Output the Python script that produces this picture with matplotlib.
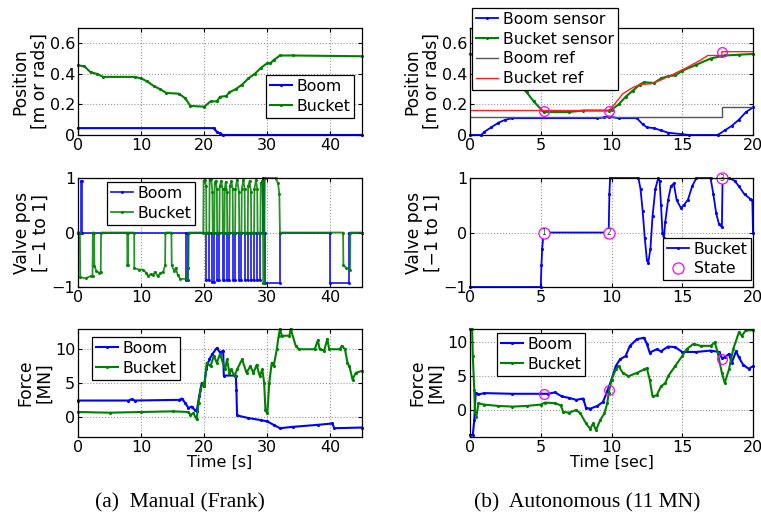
import matplotlib

matplotlib.use("Agg")
import matplotlib.pyplot as plt

plt.rcParams["font.family"] = ["DejaVu Sans"]

BLUE = "#0000ff"
GREEN = "#008000"

# ---- (a) manual: position ----
man_boom_pos_t = [0, 21.5, 22.0, 22.5, 23.0, 45]
man_boom_pos = [0.045, 0.045, 0.02, 0.01, 0.0, 0.0]
man_bucket_pos_t = [0, 1, 2, 3, 4, 9, 10, 11, 12, 13, 14, 16, 17, 17.8, 20, 21, 22, 22.5,
                    23.5, 24, 25, 26, 27, 28, 29, 30, 30.5, 31, 32, 34, 45]
man_bucket_pos = [0.455, 0.45, 0.41, 0.40, 0.38, 0.38, 0.37, 0.35, 0.32, 0.30, 0.275, 0.27,
                  0.24, 0.19, 0.185, 0.22, 0.22, 0.25, 0.255, 0.28, 0.30, 0.33, 0.37, 0.40,
                  0.44, 0.47, 0.47, 0.49, 0.52, 0.52, 0.515]

# ---- (a) manual: valve pos ----
# boom valve: (start, end, level) pulses from a zero baseline
man_boom_valve_pulses = [
    (0.5, 0.65, 0.95), (17.1, 17.5, -0.87), (20.3, 20.8, -0.88), (21.3, 21.6, -0.9),
    (22.0, 22.4, -0.88), (22.9, 23.2, -0.88), (23.6, 24.0, -0.88), (24.5, 24.9, -0.88),
    (25.5, 25.9, -0.88), (26.4, 26.9, -0.88), (27.4, 27.9, -0.88), (28.4, 28.9, -0.88),
    (29.25, 29.45, 1.0), (29.6, 32.0, -0.92), (40.0, 43.0, -0.92),
]
man_bucket_valve_t = [
    0, 0.3, 0.35, 1.2, 2.0, 2.3, 2.35, 2.55, 2.6, 2.9, 3.3, 3.6, 3.65,
    7.8, 7.82, 7.9, 7.92,
    8.9, 8.92, 9.6, 10.3, 10.8, 11.1, 11.5, 11.9, 12.2, 12.6, 13.0, 13.5, 13.8, 13.85,
    14.8, 14.85, 15.2, 15.5, 15.8, 16.2, 17.2, 17.4, 17.5, 17.55,
    19.85, 19.9, 20.1, 20.3, 20.35,
    20.8, 20.85, 21.1, 21.3, 21.35,
    21.6, 21.65, 21.8, 22.0, 22.05,
    22.4, 22.45, 22.7, 22.9, 22.95,
    23.2, 23.25, 23.4, 23.6, 23.65,
    24.0, 24.05, 24.3, 24.5, 24.55,
    24.9, 24.95, 25.2, 25.5, 25.55,
    25.9, 25.95, 26.2, 26.4, 26.45,
    26.9, 26.95, 27.2, 27.4, 27.45,
    27.9, 27.95, 28.2, 28.4, 28.45,
    28.9, 28.95, 29.2, 29.3, 29.35, 29.5, 29.6, 31.3, 31.7, 31.9, 32.0,
    42.0, 42.05, 42.5, 43.1, 43.15, 45,
]
man_bucket_valve = [
    0, 0, -0.82, -0.84, -0.8, -0.8, 0, 0, -0.62, -0.7, -0.74, -0.72, 0,
    0, -0.6, -0.6, 0,
    0, -0.65, -0.68, -0.68, -0.74, -0.8, -0.76, -0.78, -0.72, -0.8, -0.75, -0.72, -0.6, 0,
    0, -0.6, -0.7, -0.65, -0.78, -0.85, -0.85, -0.65, -0.65, 0,
    0, 0.95, 0.97, 0.85, 0,
    0, 0.97, 0.98, 0.75, 0,
    0, 0.9, 0.95, 0.8, 0,
    0, 0.85, 0.95, 0.8, 0,
    0, 0.8, 0.93, 0.75, 0,
    0, 0.85, 0.95, 0.8, 0,
    0, 0.8, 0.97, 0.75, 0,
    0, 0.8, 0.97, 0.8, 0,
    0, 0.85, 0.95, 0.75, 0,
    0, 0.8, 0.97, 0.8, 0,
    0, 0.9, 0.95, 0.5, -0.93, -0.93, 1.0, 1.0, 0.9, 0.7, 0,
    0, -0.6, -0.65, -0.68, 0, 0,
]

# ---- (a) manual: force ----
man_boom_force_t = [0, 8, 8.5, 9, 16, 16.5, 17, 17.5, 18, 18.5, 18.8, 19.2, 19.6, 20, 20.3,
                    20.8, 21.3, 22, 22.5, 23, 23.1, 25, 25.1, 25.2, 27, 29, 30, 31, 32, 34,
                    38, 40.3, 40.6, 45]
man_boom_force = [2.4, 2.4, 2.6, 2.4, 2.5, 2.7, 2.0, 1.3, 1.5, 1.0, 0.8, 3.0, 5.0, 4.5, 7.0,
                  8.5, 9.3, 10.2, 9.5, 9.8, 6.1, 6.1, 4.0, 0.2, -0.2, -0.5, -0.7, -1.2, -1.7,
                  -1.5, -1.2, -1.0, -1.7, -1.6]
man_bucket_force_t = [0, 5, 10, 15, 17.5, 17.8, 18.3, 18.8, 19.1, 19.4, 19.8, 20, 20.4, 21,
                      21.5, 22, 22.5, 23.3, 23.6, 24, 24.3, 24.8, 25.2, 26, 26.7, 27.3, 27.8,
                      28.3, 28.8, 29.2, 29.5, 29.7, 30, 30.3, 30.7, 31, 31.5, 31.8, 32, 32.3,
                      33.5, 33.7, 34.5, 35, 37.5, 38, 38.3, 39, 39.5, 39.8, 41.5, 41.8, 42.3,
                      42.7, 43, 43.5, 44, 45]
man_bucket_force = [0.7, 0.6, 0.7, 0.8, 0.7, 0.3, 0.5, -0.4, 2.0, 4.0, 5.0, 4.5, 8.0, 7.5,
                    9.0, 8.0, 9.3, 7.0, 8.5, 6.5, 7.0, 6.0, 7.0, 8.5, 6.5, 7.5, 6.5, 7.7, 6.0,
                    7.0, 5.0, 1.0, 0.5, 5.0, 8.0, 7.5, 10.0, 12.0, 13.0, 12.0, 12.0, 13.0, 10.5,
                    10.0, 10.0, 11.3, 10.0, 9.8, 11.5, 10.0, 10.0, 10.5, 10.0, 8.0, 7.5, 5.5,
                    6.5, 6.8]

# ---- (b) autonomous: position ----
aut_boom_pos_t = [0, 0.8, 1, 1.5, 2, 2.5, 3, 9, 9.5, 9.8, 10.5, 11.8, 12.2, 12.5, 13, 13.5,
                  14, 15, 15.5, 17.5, 18, 18.5, 19, 19.5, 20]
aut_boom_pos = [0, 0, 0.02, 0.05, 0.08, 0.10, 0.11, 0.11, 0.115, 0.12, 0.11, 0.11, 0.07, 0.05,
                0.045, 0.03, 0.015, 0.005, 0, 0, 0.03, 0.06, 0.10, 0.15, 0.18]
aut_bucket_pos_t = [0, 1, 2, 3, 4, 4.5, 5.2, 7, 8, 9.8, 10, 10.5, 11, 11.5, 12, 12.3, 13, 13.5,
                    14, 14.5, 15, 16, 17, 18, 19, 20]
aut_bucket_pos = [0.53, 0.5, 0.44, 0.37, 0.28, 0.22, 0.15, 0.15, 0.16, 0.16, 0.165, 0.2, 0.25,
                  0.29, 0.33, 0.345, 0.34, 0.37, 0.385, 0.39, 0.42, 0.46, 0.5, 0.52, 0.525, 0.53]
aut_boom_ref_t = [0, 17.8, 17.8, 20]
aut_boom_ref = [0.12, 0.12, 0.18, 0.18]
aut_bucket_ref_t = [0, 9.8, 10.2, 10.8, 11.5, 12, 12.8, 13.5, 14.2, 15.3, 16.3, 16.8, 17.8,
                    17.8, 20]
aut_bucket_ref = [0.16, 0.16, 0.2, 0.27, 0.31, 0.33, 0.335, 0.36, 0.39, 0.44, 0.49, 0.52,
                  0.52, 0.545, 0.545]

# ---- (b) autonomous: valve pos ----
aut_valve_t = [0, 5, 5.05, 5.1, 5.2, 9.8, 9.85, 9.9, 11.9, 12.05, 12.2, 12.35, 12.5, 12.6,
               12.75, 12.9, 13.1, 13.3, 13.4, 13.5, 13.6, 13.7, 13.8, 14, 14.2, 14.4, 14.6,
               14.9, 15.1, 15.4, 15.7, 16, 17, 17.2, 17.4, 17.6, 17.8, 17.85, 18.3, 18.7, 19,
               19.4, 19.8, 19.95, 20]
aut_valve = [-1, -1, -0.6, -0.3, 0, 0, 0.7, 1, 1, 0.8, 0.4, -0.1, -0.5, -0.55, -0.3, 0.3,
             0.8, 1, 0.95, 0.5, 0, -0.1, 0.2, 0.6, 0.85, 0.9, 0.6, 0.45, 0.5, 0.6, 0.85, 1, 1,
             0.7, 0.35, 0.15, 0.1, 1, 1, 0.95, 0.85, 0.7, 0.62, 0.6, 0]

# ---- (b) autonomous: force ----
aut_boom_force_t = [0, 0.2, 0.3, 0.4, 0.6, 1, 3, 5.5, 6, 6.5, 7, 7.5, 8, 8.2, 8.5, 9, 9.4, 9.7,
                    10, 10.3, 10.6, 11, 11.3, 11.8, 12.3, 12.5, 12.7, 13.2, 13.5, 14, 14.5,
                    15, 16, 17, 17.6, 17.8, 18, 18.3, 18.5, 18.8, 19, 19.3, 19.7, 20]
aut_boom_force = [-3.7, -3.7, -1.5, 2.5, 2.3, 2.5, 2.4, 2.4, 2.6, 2.0, 1.8, 1.5, 1.7, 0.3,
                  0.2, 0.6, 1.2, 2.8, 4.5, 6.5, 7.5, 8.0, 9.5, 10.5, 10.7, 9.8, 8.5, 9.0, 8.7,
                  9.4, 9.3, 8.6, 8.6, 8.8, 8.6, 7.7, 7.8, 8.3, 7.0, 8.7, 7.8, 6.7, 6.1, 6.5]
aut_bucket_force_t = [0, 0.15, 0.2, 0.3, 0.35, 0.45, 0.6, 1, 2, 3, 4, 5, 5.3, 6, 6.4, 6.6, 7,
                      7.5, 7.8, 8.2, 8.5, 8.7, 8.9, 9.2, 9.5, 9.7, 9.8, 10, 10.3, 10.5, 10.8,
                      11.2, 11.8, 12.3, 12.5, 12.7, 12.9, 13.2, 13.5, 13.8, 14, 14.5, 15, 15.3,
                      15.8, 16.3, 17, 17.3, 17.5, 17.8, 18, 18.3, 18.6, 19, 19.2, 19.5, 20]
aut_bucket_force = [12, 12, 8, 3, -0.3, -1, 1.0, 0.8, 0.6, 0.5, 0.6, 0.8, 1.1, 1.0, 0.7, -0.3,
                    -0.4, 0, -0.5, -2, -2.8, -2.0, -3.0, -1.5, -0.5, 1, 2.5, 4.5, 6, 6.5, 5.5,
                    5.0, 5.5, 6, 6.2, 4.5, 2, 2.2, 3.5, 4, 5, 6.5, 8, 9, 9.8, 9.5, 9.5, 10.0,
                    8.5, 5.5, 4, 6, 9, 11.5, 11, 11.8, 11.8]

# state transitions (autonomous)
state_t = [5.2, 9.8, 17.8]
state_pos = [0.16, 0.16, 0.545]
state_valve = [0, 0, 1]
state_force = [2.4, 3.0, 7.6]
state_labels = ["1", "2", "3"]


def pulse_trace(pulses, t_end):
    ts, ys = [0.0], [0.0]
    for start, end, level in pulses:
        ts += [start, start, end, end]
        ys += [0.0, level, level, 0.0]
    ts.append(t_end)
    ys.append(0.0)
    return ts, ys


def style_axis(ax, xlim, ylim, xticks, yticks, yticklabels, ylabel):
    ax.set_xlim(*xlim)
    ax.set_ylim(*ylim)
    ax.set_xticks(xticks)
    ax.set_yticks(yticks)
    ax.set_yticklabels(yticklabels)
    ax.set_ylabel(ylabel, fontsize=12.3, labelpad=1, linespacing=1.1)
    ax.grid(True, linestyle=":", color="#9a9a9a", linewidth=0.8)
    ax.tick_params(direction="in", top=True, right=True, labelsize=11.5, length=3, pad=2)
    for spine in ax.spines.values():
        spine.set_linewidth(0.9)


def add_legend(ax, x0, ytop, **kwargs):
    leg = ax.legend(loc="upper left", bbox_to_anchor=(x0, ytop), borderaxespad=0,
                    fontsize=11.3, handlelength=1.4, handletextpad=0.3, labelspacing=0.3,
                    borderpad=0.25, fancybox=False, framealpha=1, **kwargs)
    leg.get_frame().set_edgecolor("black")
    leg.get_frame().set_linewidth(0.9)
    return leg


fig = plt.figure(figsize=(7.61, 5.18), dpi=100)
left_x, left_w = 0.1025, 0.3732
right_x, right_w = 0.6176, 0.3719
rows = [(0.7394, 0.2066), (0.4459, 0.2104), (0.1564, 0.2085)]

line_kw = dict(marker=".", markersize=2.5, linewidth=1.5, clip_on=False)
thin_kw = dict(marker=".", markersize=2.5, linewidth=1.3, clip_on=False)

# (a) position
ax = fig.add_axes([left_x, rows[0][0], left_w, rows[0][1]])
ax.plot(man_boom_pos_t, man_boom_pos, color=BLUE, label="Boom", **line_kw)
ax.plot(man_bucket_pos_t, man_bucket_pos, color=GREEN, label="Bucket", **line_kw)
style_axis(ax, (0, 45), (0, 0.7), [0, 10, 20, 30, 40], [0, 0.2, 0.4, 0.6],
           ["0", "0.2", "0.4", "0.6"], "Position\n[m or rads]")
add_legend(ax, 0.662, 0.561)

# (a) valve
ax = fig.add_axes([left_x, rows[1][0], left_w, rows[1][1]])
bt, by = pulse_trace(man_boom_valve_pulses, 45)
ax.plot(bt, by, color=BLUE, label="Boom", alpha=0.85, **thin_kw)
ax.plot(man_bucket_valve_t, man_bucket_valve, color=GREEN, label="Bucket", alpha=0.85, **thin_kw)
style_axis(ax, (0, 45), (-1, 1), [0, 10, 20, 30, 40], [-1, 0, 1], ["\u22121", "0", "1"],
           "Valve pos\n[\u22121 to 1]")
add_legend(ax, 0.102, 0.963)

# (a) force
ax = fig.add_axes([left_x, rows[2][0], left_w, rows[2][1]])
ax.plot(man_boom_force_t, man_boom_force, color=BLUE, label="Boom", **line_kw)
ax.plot(man_bucket_force_t, man_bucket_force, color=GREEN, label="Bucket", **line_kw)
style_axis(ax, (0, 45), (-3, 13), [0, 10, 20, 30, 40], [0, 5, 10], ["0", "5", "10"],
           "Force\n[MN]")
ax.set_xlabel("Time [s]", fontsize=11.5, labelpad=0)
add_legend(ax, 0.049, 0.926)

# (b) position
ax = fig.add_axes([right_x, rows[0][0], right_w, rows[0][1]])
ax.plot(aut_boom_pos_t, aut_boom_pos, color=BLUE, label="Boom sensor", **thin_kw)
ax.plot(aut_bucket_pos_t, aut_bucket_pos, color=GREEN, label="Bucket sensor", **line_kw)
ax.plot(aut_boom_ref_t, aut_boom_ref, color="#555555", label="Boom ref", linewidth=1.0)
ax.plot(aut_bucket_ref_t, aut_bucket_ref, color="#ff2020", label="Bucket ref", linewidth=1.0)
ax.plot(state_t, state_pos, linestyle="none", marker="o", markersize=7, markerfacecolor="none",
        markeredgecolor="#ff00ff", markeredgewidth=0.9)
style_axis(ax, (0, 20), (0, 0.7), [0, 5, 10, 15, 20], [0, 0.2, 0.4, 0.6],
           ["0", "0.2", "0.4", "0.6"], "Position\n[m or rads]")
add_legend(ax, 0.007, 1.187)

# (b) valve
ax = fig.add_axes([right_x, rows[1][0], right_w, rows[1][1]])
ax.plot(aut_valve_t, aut_valve, color=BLUE, label="Bucket", **thin_kw)
ax.plot(state_t, state_valve, linestyle="none", marker="o", markersize=8, clip_on=False,
        markerfacecolor="white", markeredgecolor="#ff00ff", markeredgewidth=0.9, label="State")
for t, v, lab in zip(state_t, state_valve, state_labels):
    ax.text(t, v, lab, fontsize=5.5, ha="center", va="center", color="#333333")
style_axis(ax, (0, 20), (-1, 1), [0, 5, 10, 15, 20], [-1, 0, 1], ["\u22121", "0", "1"],
           "Valve pos\n[\u22121 to 1]")
add_legend(ax, 0.682, 0.452)

# (b) force
ax = fig.add_axes([right_x, rows[2][0], right_w, rows[2][1]])
ax.plot(aut_boom_force_t, aut_boom_force, color=BLUE, label="Boom", **line_kw)
ax.plot(aut_bucket_force_t, aut_bucket_force, color=GREEN, label="Bucket", **line_kw)
ax.plot(state_t, state_force, linestyle="none", marker="o", markersize=7,
        markerfacecolor="none", markeredgecolor="#ff00ff", markeredgewidth=0.9)
style_axis(ax, (0, 20), (-4, 12), [0, 5, 10, 15, 20], [0, 5, 10], ["0", "5", "10"],
           "Force\n[MN]")
ax.set_xlabel("Time [sec]", fontsize=11.5, labelpad=0)
add_legend(ax, 0.095, 0.963)

fig.text(180 / 761, 1 - 503 / 518, "(a)  Manual (Frank)", ha="center", va="center",
         fontsize=15.5, family="Liberation Serif")
fig.text(587 / 761, 1 - 503 / 518, "(b)  Autonomous (11 MN)", ha="center", va="center",
         fontsize=15.5, family="Liberation Serif")

fig.savefig("out.png", dpi=100)
